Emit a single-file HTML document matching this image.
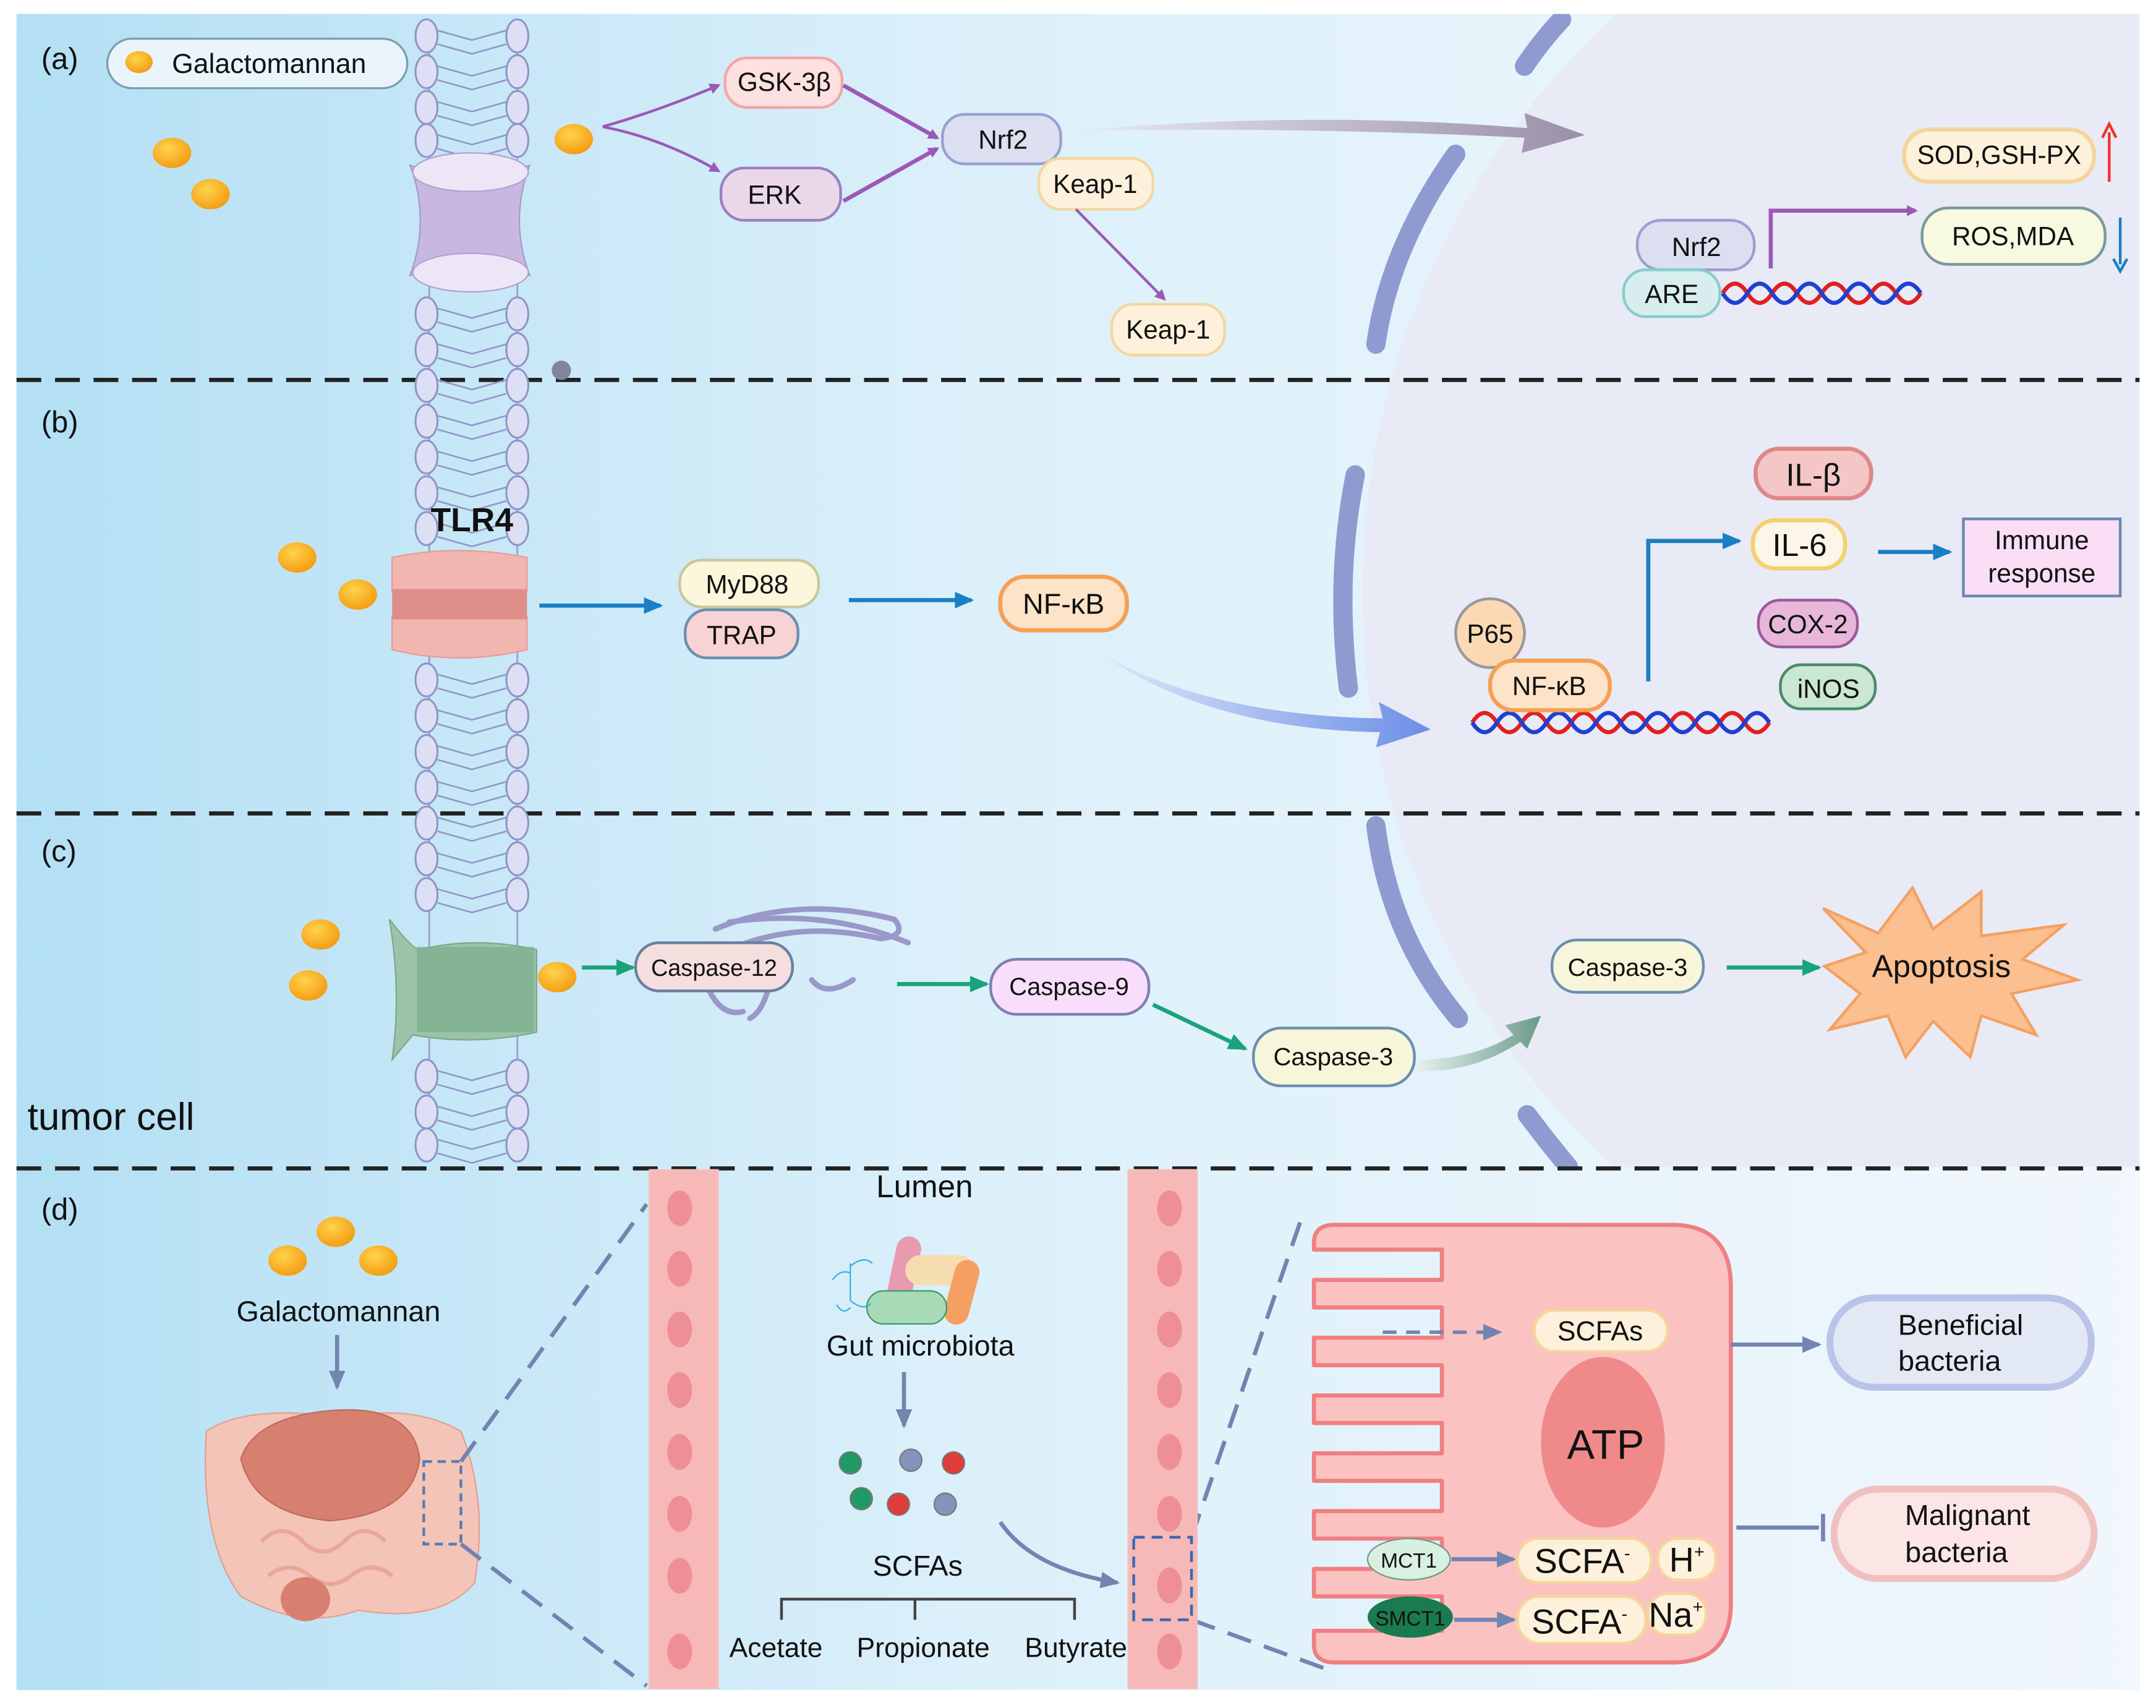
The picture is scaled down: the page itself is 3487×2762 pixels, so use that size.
<!DOCTYPE html>
<html><head><meta charset="utf-8"><style>html,body{margin:0;padding:0;background:#fff}svg{display:block}text{font-family:"Liberation Sans",sans-serif}</style></head><body>
<svg width="3487" height="2762" viewBox="0 0 1567 1241" xmlns="http://www.w3.org/2000/svg">
<defs>
<linearGradient id="bg" x1="0" x2="1" y1="0" y2="0"><stop offset="0" stop-color="#b3dff4"/><stop offset="0.45" stop-color="#dcf0fa"/><stop offset="1" stop-color="#f1f7fc"/></linearGradient>
<radialGradient id="dot" cx="0.4" cy="0.35" r="0.7"><stop offset="0" stop-color="#ffd34d"/><stop offset="1" stop-color="#f39a10"/></radialGradient>
<linearGradient id="garr" x1="0" x2="1"><stop offset="0" stop-color="#e8eaf2"/><stop offset="1" stop-color="#9a8fa8"/></linearGradient>
<linearGradient id="barr" x1="0" x2="1"><stop offset="0" stop-color="#dde8f8"/><stop offset="1" stop-color="#6d8ee8"/></linearGradient>
<linearGradient id="carr" x1="0" x2="1"><stop offset="0" stop-color="#e6f0ee"/><stop offset="1" stop-color="#6a9a8a"/></linearGradient>
<marker id="mp" markerWidth="8" markerHeight="8" refX="6" refY="4" orient="auto" markerUnits="userSpaceOnUse"><path d="M0,0 L8,4 L0,8Z" fill="#9b59b6"/></marker>
<marker id="mb" markerWidth="14" markerHeight="12" refX="12" refY="6" orient="auto" markerUnits="userSpaceOnUse"><path d="M0,0 L14,6 L0,12Z" fill="#1a7fc4"/></marker>
<marker id="mg" markerWidth="14" markerHeight="12" refX="12" refY="6" orient="auto" markerUnits="userSpaceOnUse"><path d="M0,0 L14,6 L0,12Z" fill="#1aa37a"/></marker>
<marker id="ms" markerWidth="14" markerHeight="12" refX="12" refY="6" orient="auto" markerUnits="userSpaceOnUse"><path d="M0,0 L14,6 L0,12Z" fill="#7384b0"/></marker>
<g id="hd"><ellipse cx="310" cy="0" rx="8" ry="12" fill="#dde0f4" stroke="#8f94c8" stroke-width="1.4"/><ellipse cx="376" cy="0" rx="8" ry="12" fill="#dde0f4" stroke="#8f94c8" stroke-width="1.4"/><path d="M318,6 L343,13 L368,6 M318,-4 L343,3 L368,-4" stroke="#9397c9" stroke-width="1.2" fill="none"/></g>
</defs>
<rect x="12" y="10" width="1543" height="1218" fill="url(#bg)"/>
<clipPath id="abc"><rect x="12" y="10" width="1543" height="838"/></clipPath>
<g clip-path="url(#abc)">
<circle cx="1560" cy="430" r="570" fill="#e8eaf6"/>
<g fill="none" stroke="#8f9ad0" stroke-width="14" stroke-linecap="round">
<path d="M1135,14 Q1120,30 1108,48"/>
<path d="M1058,112 Q1010,180 1000,250"/>
<path d="M985,345 Q970,420 980,500"/>
<path d="M1000,600 Q1010,680 1060,740"/>
<path d="M1110,810 Q1125,830 1140,848"/>
</g></g>
<g stroke="#222" stroke-width="3" stroke-dasharray="18,10"><line x1="12" y1="276" x2="1555" y2="276"/><line x1="12" y1="591" x2="1555" y2="591"/><line x1="12" y1="849" x2="1555" y2="849"/></g>
<!-- membrane -->
<path d="M312,20 V840 M376,20 V840" stroke="#a0a4d0" stroke-width="1.4" fill="none"/>
<use href="#hd" y="26"/><use href="#hd" y="52"/><use href="#hd" y="78"/><use href="#hd" y="102"/>
<use href="#hd" y="228"/><use href="#hd" y="254"/><use href="#hd" y="280"/><use href="#hd" y="306"/><use href="#hd" y="332"/><use href="#hd" y="358"/><use href="#hd" y="384"/>
<use href="#hd" y="494"/><use href="#hd" y="520"/><use href="#hd" y="546"/><use href="#hd" y="572"/><use href="#hd" y="598"/><use href="#hd" y="624"/><use href="#hd" y="650"/>
<use href="#hd" y="782"/><use href="#hd" y="808"/><use href="#hd" y="832"/>
<path d="M298,120 Q342,135 385,120 Q370,160 385,200 Q342,185 298,200 Q313,160 298,120Z" fill="#c8b8e0" stroke="#a898cc"/>
<ellipse cx="342" cy="125" rx="42" ry="14" fill="#ece6f6" stroke="#b0a2d2"/>
<ellipse cx="342" cy="198" rx="42" ry="14" fill="#ece6f6" stroke="#b0a2d2"/>
<circle cx="408" cy="269" r="7" fill="#7f85a0"/>
<g font-size="22" fill="#111"><text x="30" y="50">(a)</text><text x="30" y="314">(b)</text><text x="30" y="626">(c)</text><text x="30" y="886">(d)</text></g>
<text x="20" y="821" font-size="28" fill="#111">tumor cell</text>
<rect x="78" y="28" width="218" height="36" rx="18" fill="#e9f5fb" stroke="#7aa0b0" stroke-width="1.5"/>
<ellipse cx="101" cy="45" rx="10" ry="8" fill="url(#dot)"/>
<text x="125" y="53" font-size="20" fill="#111">Galactomannan</text>
<g fill="url(#dot)"><ellipse cx="125" cy="111" rx="14" ry="11"/><ellipse cx="153" cy="141" rx="14" ry="11"/><ellipse cx="417" cy="101" rx="14" ry="11"/>
<ellipse cx="216" cy="405" rx="14" ry="11"/><ellipse cx="260" cy="432" rx="14" ry="11"/>
<ellipse cx="233" cy="679" rx="14" ry="11"/><ellipse cx="224" cy="716" rx="14" ry="11"/><ellipse cx="405" cy="710" rx="14" ry="11"/>
<ellipse cx="244" cy="895" rx="14" ry="11"/><ellipse cx="209" cy="916" rx="14" ry="11"/><ellipse cx="275" cy="916" rx="14" ry="11"/></g>
<g stroke-width="2" font-size="19" fill="#111" text-anchor="middle">
<rect x="527" y="42" width="85" height="36" rx="16" fill="#fde0e0" stroke="#f4a5a5"/><text x="570" y="66" >GSK-3β</text>
<rect x="524" y="122" width="87" height="38" rx="17" fill="#ead8ea" stroke="#9a80c0"/><text x="563" y="148">ERK</text>
<rect x="685" y="83" width="86" height="36" rx="16" fill="#dcdff0" stroke="#9aa0d0"/><text x="729" y="108">Nrf2</text>
<rect x="755" y="115" width="83" height="37" rx="16" fill="#fdf1dc" stroke="#f3d7a0"/><text x="796" y="140">Keap-1</text>
<rect x="808" y="221" width="82" height="37" rx="16" fill="#fdf1dc" stroke="#f3d7a0"/><text x="849" y="246">Keap-1</text>
<rect x="1384" y="94" width="138" height="38" rx="18" fill="#fdf1dc" stroke="#f5d59a" stroke-width="3"/><text x="1453" y="119">SOD,GSH-PX</text>
<rect x="1397" y="151" width="133" height="41" rx="19" fill="#f7f9e0" stroke="#7a9a9a"/><text x="1463" y="178">ROS,MDA</text>
<rect x="1190" y="160" width="85" height="36" rx="17" fill="#dcdff0" stroke="#9aa0d0"/><text x="1233" y="186">Nrf2</text>
<rect x="1180" y="196" width="70" height="34" rx="16" fill="#d8eeee" stroke="#8cc"/><text x="1215" y="220">ARE</text>
</g>
<g stroke="#9b59b6" stroke-width="2" fill="none">
<path d="M438,92 Q480,80 522,62" marker-end="url(#mp)"/><path d="M438,92 Q480,100 522,124" marker-end="url(#mp)"/>
<path d="M613,62 L681,100" marker-end="url(#mp)" stroke-width="3"/><path d="M613,146 L681,108" marker-end="url(#mp)" stroke-width="3"/>
<path d="M782,152 L846,217" marker-end="url(#mp)"/>
<path d="M1287,195 V153 H1392" stroke-width="3" marker-end="url(#mp)"/>
</g>
<path d="M780,95 Q950,80 1110,93 L1108,82 L1152,98 L1106,111 L1108,100 Q950,92 780,95Z" fill="url(#garr)"/>
<path d="M1533,132 V96" stroke="#e33" stroke-width="2"/><path d="M1528,100 L1533,90 L1538,100" fill="none" stroke="#e33" stroke-width="2"/>
<path d="M1541,158 V192" stroke="#1a7fc4" stroke-width="2"/><path d="M1536,188 L1541,197 L1546,188" fill="none" stroke="#1a7fc4" stroke-width="2"/>
<g fill="none" stroke-width="3">
<path d="M1252,213 q9,-14 18,0 t18,0 t18,0 t18,0 t18,0 t18,0 t18,0 t18,0" stroke="#e02020"/>
<path d="M1252,213 q9,14 18,0 t18,0 t18,0 t18,0 t18,0 t18,0 t18,0 t18,0" stroke="#2040d0"/>
<path d="M1070,525 q9,-14 18,0 t18,0 t18,0 t18,0 t18,0 t18,0 t18,0 t18,0 t18,0 t18,0 t18,0 t18,0" stroke="#e02020"/>
<path d="M1070,525 q9,14 18,0 t18,0 t18,0 t18,0 t18,0 t18,0 t18,0 t18,0 t18,0 t18,0 t18,0 t18,0" stroke="#2040d0"/>
</g>
<text x="343" y="386" font-size="24" font-weight="bold" text-anchor="middle" fill="#111">TLR4</text>
<path d="M285,405 Q333,395 383,405 V430 Q333,440 285,430Z M285,448 Q333,440 383,448 V472 Q333,484 285,472Z" fill="#f2b6b0" stroke="#e69a94"/>
<rect x="285" y="428" width="98" height="22" fill="#e08e8a"/>
<g stroke-width="2" font-size="19" fill="#111" text-anchor="middle">
<rect x="494" y="407" width="101" height="34" rx="16" fill="#fbf6dc" stroke="#c8c8a0"/><text x="543" y="431">MyD88</text>
<rect x="498" y="443" width="82" height="35" rx="16" fill="#f7d3d3" stroke="#6b8fb0"/><text x="539" y="468">TRAP</text>
<rect x="727" y="419" width="92" height="39" rx="18" fill="#fde3c8" stroke="#f5a055" stroke-width="3"/><text x="773" y="446" font-size="21">NF-κB</text>
<circle cx="1083" cy="460" r="25" fill="#fbd9b5" stroke="#999"/><text x="1083" y="467">P65</text>
<rect x="1083" y="480" width="87" height="36" rx="17" fill="#fde3c8" stroke="#f5a055" stroke-width="3"/><text x="1126" y="505">NF-κB</text>
<rect x="1276" y="326" width="84" height="36" rx="17" fill="#f4c6c6" stroke="#d88" stroke-width="3"/><text x="1318" y="353" font-size="23">IL-β</text>
<rect x="1274" y="378" width="67" height="35" rx="16" fill="#fdf6e8" stroke="#f5d070" stroke-width="3"/><text x="1308" y="404" font-size="23">IL-6</text>
<rect x="1278" y="436" width="72" height="34" rx="16" fill="#e8b6d8" stroke="#9a5a9a"/><text x="1314" y="460">COX-2</text>
<rect x="1294" y="483" width="69" height="32" rx="15" fill="#c9e7d3" stroke="#4a8a6a"/><text x="1329" y="507">iNOS</text>
<rect x="1427" y="377" width="114" height="56" fill="#f9def6" stroke="#6a8ab0"/><text x="1484" y="399">Immune</text><text x="1484" y="423">response</text>
</g>
<g stroke="#1a7fc4" stroke-width="3" fill="none">
<path d="M392,440 H480" marker-end="url(#mb)"/><path d="M617,436 H706" marker-end="url(#mb)"/>
<path d="M1198,495 V393 H1264" marker-end="url(#mb)"/><path d="M1365,401 H1417" marker-end="url(#mb)"/>
</g>
<path d="M800,475 Q880,520 1005,522 L1002,510 L1040,530 L1000,543 L1003,532 Q880,530 800,475Z" fill="url(#barr)"/>
<path d="M283,668 Q300,690 305,690 Q345,680 390,690 V750 Q345,760 300,752 L285,770 Q292,720 283,668Z" fill="#9cc3a8" stroke="#7aaa8a"/>
<rect x="303" y="688" width="85" height="62" fill="#80b090" opacity="0.8"/>
<g fill="none" stroke="#9a98c8" stroke-width="4" stroke-linecap="round">
<path d="M520,675 Q580,650 650,668 Q660,680 640,682 Q580,668 530,690"/>
<path d="M510,705 Q520,740 540,735 M560,712 Q555,735 545,740 M590,712 Q600,725 620,712"/>
<path d="M530,670 Q600,660 660,685"/>
</g>
<g stroke-width="2" font-size="18" fill="#111" text-anchor="middle">
<rect x="462" y="685" width="114" height="35" rx="17" fill="#f5dede" stroke="#6b7fa0"/><text x="519" y="709" font-size="17">Caspase-12</text>
<rect x="720" y="697" width="115" height="40" rx="19" fill="#f9defb" stroke="#8080b0"/><text x="777" y="723">Caspase-9</text>
<rect x="911" y="747" width="117" height="42" rx="20" fill="#f8f6da" stroke="#6b8fb0"/><text x="969" y="774">Caspase-3</text>
<rect x="1128" y="683" width="110" height="38" rx="18" fill="#f8f6da" stroke="#6b8fb0"/><text x="1183" y="709">Caspase-3</text>
</g>
<g stroke="#1aa37a" stroke-width="3" fill="none">
<path d="M423,703 H460" marker-end="url(#mg)"/><path d="M652,715 H717" marker-end="url(#mg)"/>
<path d="M838,730 L905,762" marker-end="url(#mg)"/><path d="M1255,703 H1322" marker-end="url(#mg)"/>
</g>
<path d="M1030,770 Q1070,770 1100,752 L1094,745 L1120,738 L1110,762 L1105,757 Q1070,780 1030,778Z" fill="url(#carr)"/>
<polygon points="1325,660 1365,678 1390,645 1405,675 1440,648 1440,680 1500,672 1470,697 1510,712 1462,722 1480,752 1440,738 1432,768 1405,742 1385,768 1372,738 1330,748 1352,722 1326,702 1356,692" fill="#fbbf90" stroke="#f5a060" stroke-width="2"/>
<text x="1411" y="710" font-size="23" text-anchor="middle" fill="#111">Apoptosis</text>
<text x="246" y="960" font-size="21" text-anchor="middle" fill="#111">Galactomannan</text>
<path d="M245,970 V1008" stroke="#7384b0" stroke-width="3" marker-end="url(#ms)"/>
<path d="M150,1040 Q145,1120 175,1160 Q220,1185 260,1170 Q320,1180 345,1150 Q355,1090 335,1040 Q300,1020 250,1030 Q180,1020 150,1040Z" fill="#f5c4b8" stroke="#e0a090"/>
<path d="M175,1060 Q185,1030 240,1025 Q300,1020 305,1060 Q300,1100 240,1105 Q185,1100 175,1060Z" fill="#d88070" stroke="#c06a5c"/>
<g fill="none" stroke="#e8a898" stroke-width="3"><path d="M190,1120 q15,-15 30,0 t30,0 t30,0 M195,1145 q15,-12 30,0 t30,0 t30,0"/></g>
<ellipse cx="222" cy="1162" rx="18" ry="16" fill="#d88070"/>
<rect x="308" y="1062" width="27" height="60" fill="none" stroke="#5a7ab0" stroke-width="2" stroke-dasharray="6,4"/>
<g stroke="#7384b0" stroke-width="3" stroke-dasharray="18,10" fill="none">
<path d="M335,1062 L470,875"/><path d="M335,1122 L470,1225"/>
<path d="M866,1117 L946,885"/><path d="M866,1177 L970,1215"/>
</g>
<g fill="#f7b8b8" stroke="#f5c0c0">
<rect x="472" y="850" width="50" height="377"/><rect x="820" y="850" width="50" height="377"/>
</g>
<g fill="#ee8f96">
<ellipse cx="494" cy="878" rx="9" ry="13"/><ellipse cx="494" cy="922" rx="9" ry="13"/><ellipse cx="494" cy="966" rx="9" ry="13"/><ellipse cx="494" cy="1010" rx="9" ry="13"/><ellipse cx="494" cy="1055" rx="9" ry="13"/><ellipse cx="494" cy="1100" rx="9" ry="13"/><ellipse cx="494" cy="1145" rx="9" ry="13"/><ellipse cx="494" cy="1200" rx="9" ry="13"/>
<ellipse cx="850" cy="878" rx="9" ry="13"/><ellipse cx="850" cy="922" rx="9" ry="13"/><ellipse cx="850" cy="966" rx="9" ry="13"/><ellipse cx="850" cy="1010" rx="9" ry="13"/><ellipse cx="850" cy="1055" rx="9" ry="13"/><ellipse cx="850" cy="1100" rx="9" ry="13"/><ellipse cx="850" cy="1152" rx="9" ry="13"/><ellipse cx="850" cy="1200" rx="9" ry="13"/>
</g>
<rect x="824" y="1117" width="42" height="60" fill="none" stroke="#3a6ab0" stroke-width="2" stroke-dasharray="8,5"/>
<text x="672" y="870" font-size="23" text-anchor="middle" fill="#111">Lumen</text>
<rect x="648" y="898" width="18" height="52" rx="9" fill="#e79ab0" transform="rotate(12 657 924)"/>
<rect x="658" y="912" width="50" height="22" rx="11" fill="#f5ddb0"/>
<rect x="690" y="915" width="18" height="48" rx="9" fill="#f5a060" transform="rotate(15 699 939)"/>
<rect x="630" y="938" width="58" height="24" rx="12" fill="#a8dab8" stroke="#3a9a60"/>
<g stroke="#3ab0e0" stroke-width="1" fill="none"><path d="M618,918 V945 M605,930 q6,-8 13,-5 M618,920 q10,-8 16,-2 M608,948 q5,8 10,2 M618,945 q10,8 15,2"/></g>
<text x="669" y="985" font-size="21" text-anchor="middle" fill="#111">Gut microbiota</text>
<path d="M657,997 V1036" stroke="#7384b0" stroke-width="3" marker-end="url(#ms)"/>
<g stroke="#777" stroke-width="1"><circle cx="618" cy="1063" r="8" fill="#1f9a66"/><circle cx="662" cy="1061" r="8" fill="#8792bd"/><circle cx="693" cy="1063" r="8" fill="#e03c3c"/><circle cx="626" cy="1089" r="8" fill="#1f9a66"/><circle cx="653" cy="1093" r="8" fill="#e03c3c"/><circle cx="687" cy="1093" r="8" fill="#8792bd"/></g>
<text x="667" y="1145" font-size="21" text-anchor="middle" fill="#111">SCFAs</text>
<path d="M568,1177 V1162 H781 V1177 M665,1162 V1177" stroke="#444" stroke-width="2" fill="none"/>
<g font-size="20" fill="#111" text-anchor="middle"><text x="564" y="1204">Acetate</text><text x="671" y="1204">Propionate</text><text x="782" y="1204">Butyrate</text></g>
<path d="M727,1106 Q750,1140 812,1150" stroke="#7384b0" stroke-width="3" fill="none" marker-end="url(#ms)"/>
<path d="M970,890 H1215 Q1258,890 1258,935 V1165 Q1258,1208 1215,1208 H970 Q955,1208 955,1195 V1185 H1048 V1160 H955 V1140 H1048 V1118 H955 V1098 H1048 V1076 H955 V1056 H1048 V1034 H955 V1014 H1048 V992 H955 V972 H1048 V950 H955 V930 H1048 V908 H955 V903 Q955,890 970,890Z" fill="#fbc2c2" stroke="#f07f82" stroke-width="3" stroke-linejoin="round"/>
<ellipse cx="1165" cy="1048" rx="45" ry="62" fill="#f08a8a"/>
<text x="1167" y="1060" font-size="30" text-anchor="middle" fill="#111">ATP</text>
<rect x="1115" y="952" width="97" height="30" rx="15" fill="#fdf1dc" stroke="#f5d59a" stroke-width="2"/>
<text x="1163" y="974" font-size="20" text-anchor="middle" fill="#111">SCFAs</text>
<path d="M1005,968 H1090" stroke="#7384b0" stroke-width="2.5" stroke-dasharray="10,7" fill="none" marker-end="url(#ms)"/>
<ellipse cx="1024" cy="1133" rx="30" ry="15" fill="#d8f0e0" stroke="#6a9a8a"/><text x="1024" y="1139" font-size="15" text-anchor="middle" fill="#111">MCT1</text>
<ellipse cx="1025" cy="1175" rx="31" ry="15" fill="#1a7a50"/><text x="1025" y="1181" font-size="15" text-anchor="middle" fill="#111">SMCT1</text>
<g stroke="#7384b0" stroke-width="3" fill="none"><path d="M1055,1133 H1100" marker-end="url(#ms)"/><path d="M1057,1177 H1100" marker-end="url(#ms)"/></g>
<g fill="#fdf1dc" stroke="#f5d59a" stroke-width="2">
<rect x="1103" y="1118" width="97" height="32" rx="15"/><rect x="1205" y="1118" width="42" height="30" rx="14"/>
<rect x="1103" y="1160" width="93" height="34" rx="16"/><rect x="1198" y="1158" width="42" height="30" rx="14"/></g>
<g font-size="25" fill="#111" text-anchor="middle">
<text x="1150" y="1143">SCFA<tspan font-size="13" dy="-10">-</tspan></text><text x="1226" y="1142">H<tspan font-size="13" dy="-10">+</tspan></text>
<text x="1148" y="1187">SCFA<tspan font-size="13" dy="-10">-</tspan></text><text x="1218" y="1182">Na<tspan font-size="13" dy="-10">+</tspan></text></g>
<path d="M1258,977 H1322" stroke="#7384b0" stroke-width="3" marker-end="url(#ms)"/>
<path d="M1262,1110 H1322 M1325,1100 V1120" stroke="#7384b0" stroke-width="3"/>
<rect x="1330" y="943" width="190" height="65" rx="32" fill="#e3e8f5" stroke="#b8c4e8" stroke-width="5"/>
<text x="1425" y="970" font-size="21" text-anchor="middle" fill="#111">Beneficial</text><text x="1417" y="996" font-size="21" text-anchor="middle" fill="#111">bacteria</text>
<rect x="1333" y="1082" width="189" height="65" rx="32" fill="#fbe5e5" stroke="#f0c0c0" stroke-width="5"/>
<text x="1430" y="1108" font-size="21" text-anchor="middle" fill="#111">Malignant</text><text x="1422" y="1135" font-size="21" text-anchor="middle" fill="#111">bacteria</text>
</svg>
</body></html>
